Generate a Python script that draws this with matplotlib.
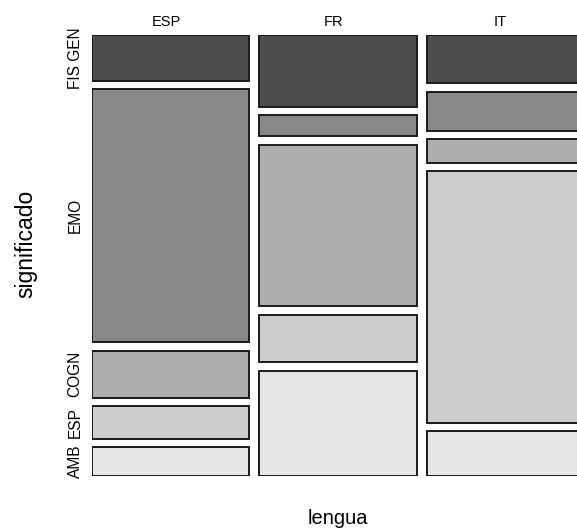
import matplotlib
matplotlib.use("Agg")
import matplotlib.pyplot as plt
from matplotlib.patches import Rectangle
from matplotlib.transforms import blended_transform_factory

plt.rcParams['font.family'] = ['Liberation Sans', 'DejaVu Sans']

# data (share of each meaning within each language, %)
lenguas = ["ESP", "FR", "IT"]
significados = ["FIS GEN", "EMO", "COGN", "ESP", "AMB"]
esp_vals = [11.2, 62.3, 11.6, 8.0, 6.9]
fr_vals = [17.6, 5.2, 39.7, 11.7, 25.8]
it_vals = [11.9, 9.5, 5.8, 61.8, 10.9]
colores = ["#4D4D4D", "#888888", "#AEAEAE", "#CCCCCC", "#E6E6E6"]

valores = [esp_vals, fr_vals, it_vals]

W, H = 577, 532
fig = plt.figure(figsize=(W/100, H/100), dpi=100)
ax = fig.add_axes([92/W, (H-475.5)/H, 492/W, 440.5/H])

gx = 10/157.0   # gap between columns
gy = 8.5/406.5  # gap between cells
n = len(significados)

ax.set_xlim(0, len(lenguas) + (len(lenguas)-1)*gx)
ax.set_ylim(1 + (n-1)*gy, 0)
ax.axis("off")

centros_y = []
for i, vals in enumerate(valores):
    x0 = i*(1 + gx)
    tot = float(sum(vals))
    y0 = 0
    for j, v in enumerate(vals):
        h = v/tot
        ax.add_patch(Rectangle((x0, y0), 1, h, facecolor=colores[j],
                               edgecolor="#1a1a1a", linewidth=1.4))
        if i == 0:
            centros_y.append(y0 + h/2)
        y0 += h + gy

# column labels on top
tr_top = blended_transform_factory(ax.transData, fig.transFigure)
for i, l in enumerate(lenguas):
    ax.text(i*(1+gx) + 0.47, 1 - 26/H, l, transform=tr_top, ha="center",
            va="baseline", fontsize=10.5)

# row labels (from the first column)
tr_left = blended_transform_factory(fig.transFigure, ax.transData)
for s, yc in zip(significados, centros_y):
    ax.text(75/W, yc, s, transform=tr_left, rotation=90, ha="center",
            va="center", fontsize=11.2)

fig.text(338/W, 1 - 519/H, "lengua", ha="center", va="center", fontsize=14.5)
fig.text(26/W, 1 - 244/H, "significado", ha="center", va="center",
         rotation=90, fontsize=16.5)

fig.savefig("out.png", dpi=100)
